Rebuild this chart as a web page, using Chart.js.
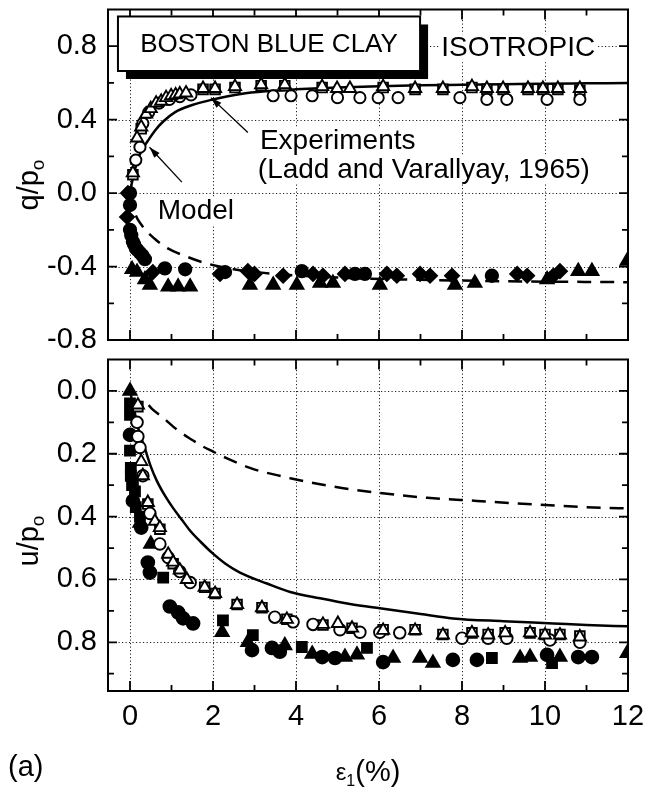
<!DOCTYPE html>
<html><head><meta charset="utf-8">
<script src="https://cdn.jsdelivr.net/npm/chart.js@4.4.1/dist/chart.umd.min.js"></script>
<style>
html,body{margin:0;padding:0;background:#fff;}
#wrap{position:relative;width:647px;height:789px;overflow:hidden;}
#c1{position:absolute;left:0;top:0;}
#c2{position:absolute;left:0;top:350px;}
</style></head><body>
<div id="wrap"><canvas id="c1" width="647" height="350"></canvas><canvas id="c2" width="647" height="439"></canvas></div>
<script>
// ---------- tick values ----------
const xMajorTicks = [0, 2, 4, 6, 8, 10, 12];
const xMinorTicks = [1, 3, 5, 7, 9, 11];
const topYMajor = [-0.8, -0.4, 0.0, 0.4, 0.8];
const topYMinor = [-0.6, -0.2, 0.2, 0.6];
const botYMajor = [0.0, 0.2, 0.4, 0.6, 0.8];
const botYMinor = [0.1, 0.3, 0.5, 0.7, 0.9];

// ---------- top panel: q/po vs eps1 (%) ----------
const topOpenTriX = [0.07,0.17,0.27,0.39,0.50,0.63,0.75,0.87,0.99,1.10,1.20,1.35,1.76,2.05,2.53,3.16,3.73,4.63,4.99,5.30,6.10,6.87,7.54,8.24,8.60,8.99,9.59,9.95,10.31,10.84];
const topOpenTriY = [0.11,0.30,0.36,0.43,0.46,0.49,0.50,0.52,0.53,0.535,0.54,0.545,0.57,0.57,0.58,0.59,0.59,0.58,0.57,0.57,0.58,0.57,0.57,0.58,0.57,0.57,0.57,0.57,0.57,0.57];
const topOpenSqX = [0.07,0.27,1.76,2.05,2.53,3.16,3.73,4.63,6.10,6.87,7.54,8.24,8.60,8.99,9.59,9.95,10.31,10.84];
const topOpenSqY = [0.10,0.35,0.565,0.565,0.575,0.585,0.585,0.575,0.575,0.565,0.565,0.575,0.565,0.565,0.565,0.565,0.565,0.56];
const topOpenCircX = [0.14,0.24,0.31,0.45,0.70,0.95,1.20,1.47,3.45,3.88,4.39,5.00,5.54,5.98,6.46,7.95,8.60,9.08,10.05,10.84];
const topOpenCircY = [0.18,0.25,0.38,0.44,0.49,0.51,0.525,0.535,0.53,0.53,0.53,0.52,0.52,0.52,0.52,0.52,0.51,0.51,0.51,0.51];
const topFillCircX = [0.0,0.0,0.0,0.03,0.07,0.10,0.14,0.18,0.24,0.30,0.36,0.84,1.33,2.29,4.14,5.42,5.66,8.72];
const topFillCircY = [0.0,-0.065,-0.20,-0.23,-0.265,-0.28,-0.30,-0.31,-0.325,-0.34,-0.36,-0.41,-0.415,-0.43,-0.425,-0.44,-0.44,-0.45];
const topFillTriX = [0.05,0.17,0.36,0.48,0.92,1.16,1.45,2.89,3.45,4.02,4.58,4.89,6.02,7.83,8.31,10.05,10.80,11.13,11.98];
const topFillTriY = [-0.415,-0.43,-0.47,-0.50,-0.51,-0.51,-0.51,-0.50,-0.50,-0.50,-0.49,-0.49,-0.50,-0.50,-0.49,-0.47,-0.425,-0.425,-0.37];
const topFillDiaX = [-0.05,-0.07,0.55,2.17,2.84,3.00,3.69,4.41,4.65,5.18,6.19,6.43,6.99,7.23,7.76,9.33,9.57,10.20,10.36];
const topFillDiaY = [0.0,-0.13,-0.43,-0.44,-0.425,-0.44,-0.45,-0.44,-0.45,-0.44,-0.44,-0.45,-0.44,-0.45,-0.45,-0.44,-0.45,-0.45,-0.425];
const topModelSolidX = [0,0.05,0.1,0.2,0.3,0.43,0.6,0.8,1.08,1.5,2.0,2.67,3.3,4.0,5.0,6.0,7.0,8.0,9.0,10.0,11.0,12.0];
const topModelSolidY = [0,0.06,0.11,0.19,0.24,0.285,0.34,0.39,0.44,0.48,0.51,0.54,0.555,0.565,0.575,0.582,0.587,0.59,0.593,0.596,0.598,0.6];
const topModelDashX = [0,0.12,0.3,0.6,0.9,1.3,1.8,2.5,3.5,5,7,9,12];
const topModelDashY = [0,-0.11,-0.18,-0.25,-0.30,-0.34,-0.38,-0.415,-0.44,-0.46,-0.472,-0.48,-0.485];

// ---------- bottom panel: u/po vs eps1 (%) ----------
const botOpenTriX = [0.19,0.27,0.31,0.43,0.60,0.72,0.92,1.04,1.20,1.37,1.80,2.05,2.58,3.18,3.78,4.65,5.01,5.35,6.10,6.87,7.54,8.24,8.63,9.04,9.64,10.00,10.36,10.84];
const botOpenTriY = [0.045,0.225,0.27,0.355,0.415,0.435,0.52,0.545,0.57,0.60,0.625,0.645,0.68,0.69,0.727,0.743,0.74,0.755,0.762,0.762,0.777,0.77,0.777,0.77,0.77,0.777,0.777,0.783];
const botOpenSqX = [0.19,0.43,0.72,1.04,1.80,2.05,2.58,3.18,3.78,4.65,5.35,6.10,6.87,7.54,8.24,8.63,9.04,9.64,10.00,10.36,10.84];
const botOpenSqY = [0.05,0.36,0.44,0.55,0.625,0.645,0.68,0.69,0.727,0.745,0.755,0.76,0.76,0.775,0.77,0.775,0.77,0.77,0.775,0.775,0.78];
const botOpenCircX = [0.17,0.19,0.24,0.31,0.48,0.72,0.92,1.20,1.45,3.49,3.93,4.41,5.06,5.54,6.02,6.50,8.00,8.63,9.08,10.12,10.84];
const botOpenCircY = [0.10,0.145,0.18,0.27,0.39,0.487,0.53,0.575,0.61,0.72,0.735,0.743,0.76,0.768,0.768,0.77,0.787,0.787,0.787,0.793,0.80];
const botFillCircX = [0.0,0.07,0.27,0.43,0.48,0.96,1.16,1.28,1.52,2.94,3.42,3.61,4.63,4.94,6.10,7.78,8.36,10.05,10.80,11.13];
const botFillCircY = [0.14,0.35,0.435,0.546,0.578,0.686,0.705,0.724,0.74,0.825,0.818,0.83,0.847,0.85,0.863,0.856,0.856,0.84,0.847,0.847];
const botFillSqX = [0.0,0.0,0.0,0.02,0.02,0.05,0.07,0.12,0.14,0.24,0.80,2.24,2.96,4.14,5.71,8.72,10.17];
const botFillSqY = [0.04,0.076,0.19,0.245,0.27,0.30,0.29,0.32,0.37,0.40,0.594,0.73,0.777,0.815,0.818,0.85,0.866];
const botFillTriX = [0.0,0.24,0.50,2.22,2.84,3.73,4.39,5.18,5.47,6.34,6.99,7.30,9.40,9.64,10.36,11.98];
const botFillTriY = [0.0,0.42,0.487,0.768,0.80,0.81,0.837,0.847,0.84,0.85,0.85,0.866,0.85,0.847,0.847,0.835];
const botModelSolidX = [0,0.1,0.2,0.36,0.5,0.65,0.85,1.04,1.25,1.45,1.7,2.0,2.3,2.65,3.3,3.86,4.58,5.3,6.02,7.0,7.78,9.0,10.2,11.0,12.0];
const botModelSolidY = [0,0.06,0.12,0.183,0.24,0.287,0.335,0.373,0.41,0.445,0.48,0.518,0.55,0.578,0.613,0.64,0.66,0.678,0.692,0.71,0.724,0.733,0.74,0.745,0.749];
const botModelDashX = [0.45,0.53,0.77,1.13,1.45,1.76,2.0,2.34,2.6,2.89,3.13,3.54,3.86,4.58,5.3,6.02,7.16,8.36,9.57,11.4,12];
const botModelDashY = [0.045,0.057,0.082,0.123,0.152,0.177,0.193,0.215,0.23,0.245,0.255,0.268,0.278,0.297,0.313,0.325,0.34,0.35,0.36,0.372,0.374];

// ---------- helpers ----------
const FONT = '"Liberation Sans", Arial, Helvetica, sans-serif';
const pts = (xs, ys) => xs.map((x, i) => ({x: x, y: ys[i]}));
function marker(xs, ys, style, filled, r) {
  return {data: pts(xs, ys), pointStyle: style, pointRadius: r, pointHoverRadius: r,
    backgroundColor: filled ? '#000' : '#fff', borderColor: '#000', pointBorderWidth: 1.9,
    borderWidth: 1.9, showLine: false, clip: 0};
}
function curve(xs, ys, dash) {
  return {data: pts(xs, ys), showLine: true, pointRadius: 0, borderColor: '#000', borderWidth: 2.5,
    borderDash: dash || [], cubicInterpolationMode: 'monotone', fill: false, clip: 0};
}

function frameAndGrid(yMajor, yMinor) {
  return {
    id: 'frameGrid',
    beforeDatasetsDraw(chart) {
      const {ctx, chartArea: a, scales: {x, y}} = chart;
      ctx.save();
      ctx.strokeStyle = '#222'; ctx.lineWidth = 1; ctx.setLineDash([1.2, 2.3]);
      xMajorTicks.forEach(v => { const px = Math.round(x.getPixelForValue(v)) + 0.5;
        if (px > a.left + 2 && px < a.right - 2) { ctx.beginPath(); ctx.moveTo(px, a.top); ctx.lineTo(px, a.bottom); ctx.stroke(); } });
      yMajor.forEach(v => { const py = Math.round(y.getPixelForValue(v)) + 0.5;
        if (py > a.top + 2 && py < a.bottom - 2) { ctx.beginPath(); ctx.moveTo(a.left, py); ctx.lineTo(a.right, py); ctx.stroke(); } });
      ctx.restore();
    },
    afterDatasetsDraw(chart) {
      const {ctx, chartArea: a, scales: {x, y}} = chart;
      ctx.save();
      ctx.strokeStyle = '#000'; ctx.lineWidth = 2; ctx.setLineDash([]);
      ctx.strokeRect(a.left, a.top, a.right - a.left, a.bottom - a.top);
      ctx.lineWidth = 1.8;
      const tx = (v, len) => { const px = x.getPixelForValue(v);
        ctx.beginPath(); ctx.moveTo(px, a.bottom); ctx.lineTo(px, a.bottom - len);
        ctx.moveTo(px, a.top); ctx.lineTo(px, a.top + len); ctx.stroke(); };
      const ty = (v, len) => { const py = y.getPixelForValue(v);
        ctx.beginPath(); ctx.moveTo(a.left, py); ctx.lineTo(a.left + len, py);
        ctx.moveTo(a.right, py); ctx.lineTo(a.right - len, py); ctx.stroke(); };
      xMajorTicks.forEach(v => tx(v, 10)); xMinorTicks.forEach(v => tx(v, 6));
      yMajor.forEach(v => ty(v, 9)); yMinor.forEach(v => ty(v, 6));
      ctx.restore();
    }
  };
}

function textBox(ctx, str, x, y, font) {
  ctx.font = font;
  const w = ctx.measureText(str).width;
  ctx.fillStyle = '#fff';
  ctx.fillRect(x - 2, y - 22, w + 4, 28);
  ctx.fillStyle = '#000';
  ctx.fillText(str, x, y);
}
function arrow(ctx, x0, y0, x1, y1) {
  ctx.beginPath(); ctx.moveTo(x0, y0); ctx.lineTo(x1, y1); ctx.lineWidth = 1.3; ctx.strokeStyle = '#000'; ctx.stroke();
  const ang = Math.atan2(y1 - y0, x1 - x0), L = 11, W = 3.5;
  ctx.beginPath(); ctx.moveTo(x1, y1);
  ctx.lineTo(x1 - L * Math.cos(ang) + W * Math.sin(ang), y1 - L * Math.sin(ang) - W * Math.cos(ang));
  ctx.lineTo(x1 - L * Math.cos(ang) - W * Math.sin(ang), y1 - L * Math.sin(ang) + W * Math.cos(ang));
  ctx.closePath(); ctx.fillStyle = '#000'; ctx.fill();
}
function yTitle(ctx, main, sub, cx, cy) {
  ctx.save();
  ctx.translate(cx, cy); ctx.rotate(-Math.PI / 2);
  ctx.font = '29px ' + FONT;
  const w1 = ctx.measureText(main).width;
  ctx.font = '19px ' + FONT;
  const w2 = ctx.measureText(sub).width;
  const start = -(w1 + w2) / 2;
  ctx.fillStyle = '#000'; ctx.textBaseline = 'alphabetic'; ctx.textAlign = 'left';
  ctx.font = '29px ' + FONT; ctx.fillText(main, start, 9);
  ctx.font = '19px ' + FONT; ctx.fillText(sub, start + w1, 15);
  ctx.restore();
}

const annotTop = {
  id: 'annotTop',
  afterDraw(chart) {
    const {ctx, scales: {x, y}} = chart;
    ctx.save();
    // label box with shadow
    const bx0 = x.getPixelForValue(-0.29), bx1 = x.getPixelForValue(6.99);
    const by0 = y.getPixelForValue(0.962), by1 = y.getPixelForValue(0.665);
    ctx.fillStyle = '#000'; ctx.fillRect(bx0 + 8, by0 + 8, bx1 - bx0, by1 - by0);
    ctx.fillStyle = '#fff'; ctx.fillRect(bx0, by0, bx1 - bx0, by1 - by0);
    ctx.strokeStyle = '#000'; ctx.lineWidth = 2; ctx.strokeRect(bx0, by0, bx1 - bx0, by1 - by0);
    ctx.fillStyle = '#000'; ctx.font = '26px ' + FONT; ctx.textAlign = 'center'; ctx.textBaseline = 'middle';
    ctx.fillText('BOSTON BLUE CLAY', (bx0 + bx1) / 2, (by0 + by1) / 2 + 1);
    ctx.textAlign = 'left'; ctx.textBaseline = 'alphabetic';
    textBox(ctx, 'ISOTROPIC', x.getPixelForValue(7.5), y.getPixelForValue(0.8) + 10, '28px ' + FONT);
    textBox(ctx, 'Experiments', x.getPixelForValue(3.13), y.getPixelForValue(0.24), '28px ' + FONT);
    textBox(ctx, '(Ladd and Varallyay, 1965)', x.getPixelForValue(3.08), y.getPixelForValue(0.084), '28px ' + FONT);
    textBox(ctx, 'Model', x.getPixelForValue(0.67), y.getPixelForValue(-0.14), '28px ' + FONT);
    arrow(ctx, x.getPixelForValue(2.84), y.getPixelForValue(0.33), x.getPixelForValue(1.95), y.getPixelForValue(0.52));
    arrow(ctx, x.getPixelForValue(1.25), y.getPixelForValue(0.06), x.getPixelForValue(0.47), y.getPixelForValue(0.25));
    ctx.restore();
    yTitle(ctx, 'q/p', 'o', 29, 185);
  }
};
const annotBot = {
  id: 'annotBot',
  afterDraw(chart) {
    const {ctx, chartArea: a} = chart;
    ctx.save();
    yTitle(ctx, 'u/p', 'o', 29, 541 - 350);
    ctx.fillStyle = '#000'; ctx.textBaseline = 'alphabetic'; ctx.textAlign = 'left';
    ctx.font = '29px ' + FONT;
    ctx.fillText('(a)', 8, 776 - 350);
    // x title: eps_1(%)
    const cx = (a.left + a.right) / 2, base = 781 - 350;
    ctx.font = '24px ' + FONT; const we = ctx.measureText('\u03b5').width;
    ctx.font = '16px ' + FONT; const w1 = ctx.measureText('1').width;
    ctx.font = '29px ' + FONT; const wp = ctx.measureText('(%)').width;
    let sx = cx - (we + w1 + wp) / 2;
    ctx.font = '24px ' + FONT; ctx.fillText('\u03b5', sx, base - 1); sx += we;
    ctx.font = '16px ' + FONT; ctx.fillText('1', sx, base + 5); sx += w1;
    ctx.font = '29px ' + FONT; ctx.fillText('(%)', sx, base);
    ctx.restore();
  }
};

Chart.defaults.font.family = FONT;
Chart.defaults.color = '#000';

function baseOptions(yMin, yMax, yMajor, reverse, showX, xHeight) {
  return {
    responsive: false, animation: false, devicePixelRatio: 1,
    layout: {padding: {left: 0, right: 19, top: 0, bottom: 0}},
    plugins: {legend: {display: false}, tooltip: {enabled: false}},
    scales: {
      x: {type: 'linear', min: -0.53, max: 12,
        afterBuildTicks: s => { s.ticks = xMajorTicks.map(v => ({value: v})); },
        ticks: {display: showX, font: {size: 29, family: FONT}, color: '#000', padding: 9, maxRotation: 0, autoSkip: false,
          callback: v => String(v)},
        grid: {display: false, drawTicks: false}, border: {display: false},
        afterFit: s => { s.height = xHeight; s.paddingLeft = 0; s.paddingRight = 0; }},
      y: {type: 'linear', min: yMin, max: yMax, reverse: reverse,
        afterBuildTicks: s => { s.ticks = yMajor.map(v => ({value: v})); },
        ticks: {font: {size: 29, family: FONT}, color: '#000', padding: 11, autoSkip: false,
          callback: v => Number(v).toFixed(1)},
        grid: {display: false, drawTicks: false}, border: {display: false},
        afterFit: s => { s.width = 108; s.paddingTop = 0; s.paddingBottom = 0; }}
    }
  };
}

const opt1 = baseOptions(-0.8, 1.0, topYMajor, false, false, 10);
opt1.layout.padding.top = 8;
new Chart(document.getElementById('c1'), {
  type: 'scatter',
  data: {datasets: [
    marker(topOpenTriX, topOpenTriY, 'triangle', false, 7),
    marker(topOpenCircX, topOpenCircY, 'circle', false, 5.6),
    marker(topOpenSqX, topOpenSqY, 'rect', false, 6.8),
    marker(topFillTriX, topFillTriY, 'triangle', true, 7.6),
    marker(topFillDiaX, topFillDiaY, 'rectRot', true, 7),
    marker(topFillCircX, topFillCircY, 'circle', true, 6.2),
    curve(topModelSolidX, topModelSolidY),
    curve(topModelDashX, topModelDashY, [14, 9])
  ]},
  options: opt1,
  plugins: [frameAndGrid(topYMajor, topYMinor), annotTop]
});

const opt2 = baseOptions(-0.1, 0.955, botYMajor, true, true, 98);
opt2.layout.padding.top = 7;
new Chart(document.getElementById('c2'), {
  type: 'scatter',
  data: {datasets: [
    marker(botOpenTriX, botOpenTriY, 'triangle', false, 7),
    marker(botOpenCircX, botOpenCircY, 'circle', false, 5.8),
    marker(botOpenSqX, botOpenSqY, 'rect', false, 6.8),
    marker(botFillTriX, botFillTriY, 'triangle', true, 7.6),
    marker(botFillSqX, botFillSqY, 'rect', true, 7),
    marker(botFillCircX, botFillCircY, 'circle', true, 6.4),
    curve(botModelSolidX, botModelSolidY),
    curve(botModelDashX, botModelDashY, [14, 9])
  ]},
  options: opt2,
  plugins: [frameAndGrid(botYMajor, botYMinor), annotBot]
});
</script>
</body></html>
